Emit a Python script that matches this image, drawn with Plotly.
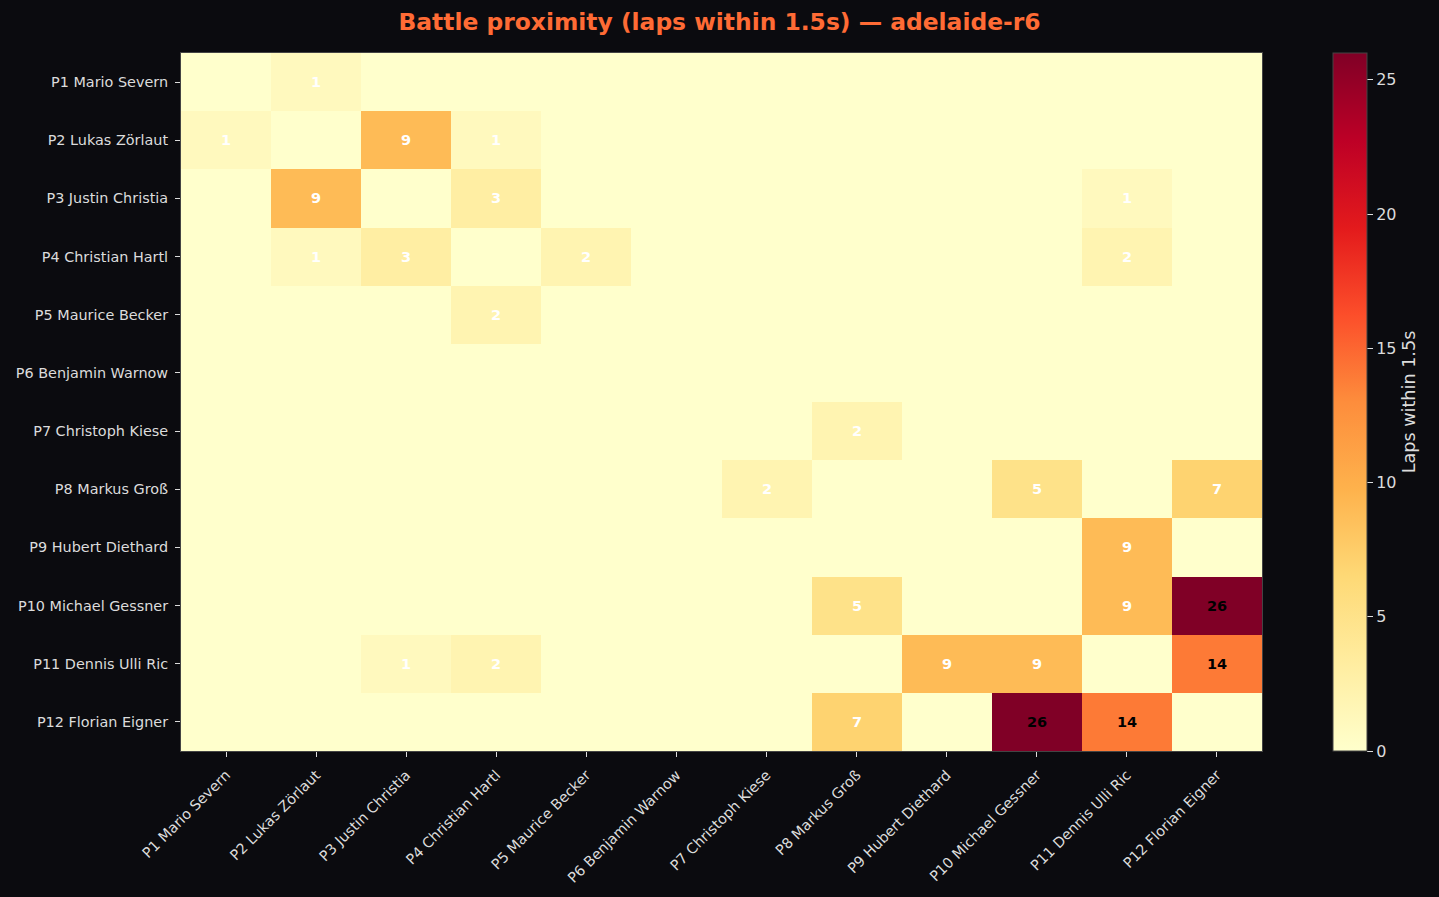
import plotly.graph_objects as go

drivers = ["P1 Mario Severn", "P2 Lukas Zörlaut", "P3 Justin Christia", "P4 Christian Hartl",
           "P5 Maurice Becker", "P6 Benjamin Warnow", "P7 Christoph Kiese", "P8 Markus Groß",
           "P9 Hubert Diethard", "P10 Michael Gessner", "P11 Dennis Ulli Ric", "P12 Florian Eigner"]

# laps within 1.5s, row driver vs column driver
laps = [
    [0, 1, 0, 0, 0, 0, 0, 0, 0, 0, 0, 0],
    [1, 0, 9, 1, 0, 0, 0, 0, 0, 0, 0, 0],
    [0, 9, 0, 3, 0, 0, 0, 0, 0, 0, 1, 0],
    [0, 1, 3, 0, 2, 0, 0, 0, 0, 0, 2, 0],
    [0, 0, 0, 2, 0, 0, 0, 0, 0, 0, 0, 0],
    [0, 0, 0, 0, 0, 0, 0, 0, 0, 0, 0, 0],
    [0, 0, 0, 0, 0, 0, 0, 2, 0, 0, 0, 0],
    [0, 0, 0, 0, 0, 0, 2, 0, 0, 5, 0, 7],
    [0, 0, 0, 0, 0, 0, 0, 0, 0, 0, 9, 0],
    [0, 0, 0, 0, 0, 0, 0, 5, 0, 0, 9, 26],
    [0, 0, 1, 2, 0, 0, 0, 0, 9, 9, 0, 14],
    [0, 0, 0, 0, 0, 0, 0, 7, 0, 26, 14, 0],
]

ylorrd = ["#ffffcc", "#ffeda0", "#fed976", "#feb24c", "#fd8d3c",
          "#fc4e2a", "#e31a1c", "#bd0026", "#800026"]
scale = [[i / (len(ylorrd) - 1), c] for i, c in enumerate(ylorrd)]

bg = "#0b0b0f"
txt = "#dcdcdc"
vmax = max(max(r) for r in laps)

fig = go.Figure()
fig.add_heatmap(z=laps, x=drivers, y=drivers, colorscale=scale, zmin=0, zmax=vmax,
                xgap=0, ygap=0, hoverongaps=False,
                colorbar=dict(title=dict(text="Laps within 1.5s", side="right",
                                         font=dict(size=17.6, color=txt)),
                              tickvals=[0, 5, 10, 15, 20, 25],
                              tickfont=dict(size=16, color=txt),
                              ticks="outside", ticklen=6, tickcolor=txt,
                              thickness=34, len=1, lenmode="fraction",
                              xpad=0, ypad=0,
                              x=(1333 - 181) / 1081, xanchor="left", y=0.5, yanchor="middle",
                              outlinecolor="#444444", outlinewidth=1))

# cell labels, skip zeros
for i, row in enumerate(laps):
    for j, v in enumerate(row):
        if v == 0:
            continue
        fig.add_annotation(x=drivers[j], y=drivers[i], text="<b>%d</b>" % v,
                           showarrow=False,
                           font=dict(size=14.5, color="black" if v > vmax / 2 else "white"))

axis_common = dict(showgrid=False, zeroline=False, ticks="outside", ticklen=5,
                   tickcolor=txt, tickfont=dict(size=14.4, color=txt),
                   ticklabelstandoff=4,
                   showline=True, linecolor="#444444", mirror=True)

fig.update_layout(
    width=1439, height=897,
    paper_bgcolor=bg, plot_bgcolor=bg,
    font=dict(family="DejaVu Sans", color=txt),
    margin=dict(l=181, r=177, t=53, b=146, autoexpand=False),
    title=dict(text="<b>Battle proximity (laps within 1.5s) — adelaide-r6</b>",
               x=0.5, xanchor="center", y=1 - 22 / 897, yanchor="middle",
               font=dict(size=23.4, color="#ff6b35")),
    xaxis=dict(tickangle=-45, **axis_common),
    yaxis=dict(autorange="reversed", **axis_common),
)

fig.write_html("out.html", config={"displayModeBar": False},
               post_script="document.body.style.margin='0';document.body.style.background='#0b0b0f';")
